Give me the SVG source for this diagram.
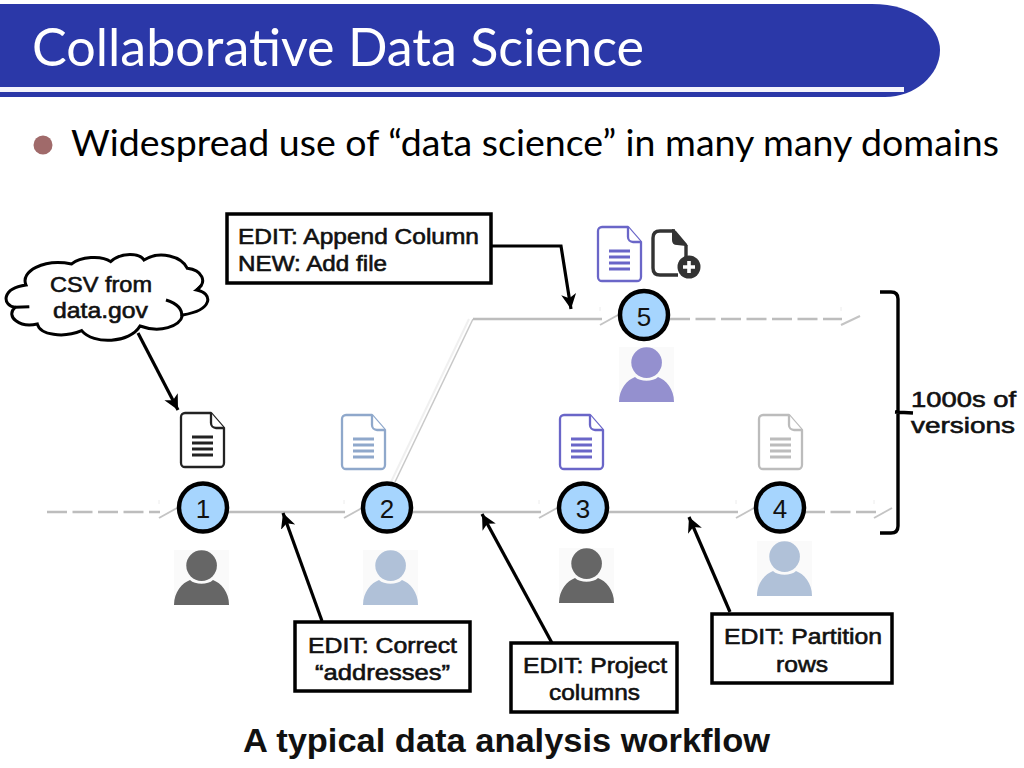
<svg xmlns="http://www.w3.org/2000/svg" width="1024" height="768" viewBox="0 0 1024 768">
<style>
text{font-family:"Liberation Sans",Arial,sans-serif;fill:#111}
.slide{font-family:Lato,"Open Sans",sans-serif}
.lbl{font-size:22px;stroke:#111;stroke-width:.6px}
.num{font-size:26px;text-anchor:middle}
.box{fill:#fff;stroke:#000;stroke-width:3.5}
.ver{fill:#a6d5fe;stroke:#000;stroke-width:4.5}
.doc{fill:#fff;stroke:currentColor;stroke-width:2.3}
.docl{stroke:currentColor;stroke-width:2.8;fill:none}
.flow{stroke:#bdbdbd;stroke-width:2.4;fill:none;filter:url(#soft)}
.dash{stroke-dasharray:20 5.5}
.hd{fill:#fff;stroke:none}
.hl{stroke:#c4c4c4;stroke-width:2;fill:none;filter:url(#soft)}
.ht{stroke:#ececec;stroke-width:1;fill:none}
.ptr{stroke:#000;stroke-width:3.2;fill:none;marker-end:url(#ah)}
</style>
<defs>
<filter id="soft" filterUnits="userSpaceOnUse" x="0" y="0" width="1024" height="768"><feGaussianBlur stdDeviation=".5"/></filter>
<marker id="ah" markerUnits="userSpaceOnUse" markerWidth="18" markerHeight="18" refX="15" refY="8" orient="auto">
<path d="M15,8 L0,0.5 L4,8 L0,15.5 Z" fill="#000"/>
</marker>
<g id="docIcon">
<path class="doc" stroke-linejoin="round" d="M4,0 H30 L43,15 V50 a4,4 0 0 1 -4,4 H4 a4,4 0 0 1 -4,-4 V4 a4,4 0 0 1 4,-4 Z"/>
<path class="doc" d="M30,0 V10 a5,5 0 0 0 5,5 H43"/>
<path class="docl" d="M11,24 H32 M11,30 H32 M11,36 H32 M11,42 H32"/>
</g>
<g id="person">
<rect width="55" height="55" fill="#fafafa"/>
<circle cx="27.6" cy="15.6" r="15.3" fill="currentColor"/>
<path fill="currentColor" d="M0,55 C0,42 8,33 16,30 C21,35 34,35 39,30 C47,33 55,42 55,55 Z"/>
</g>
</defs>
<g id="banner">
<path d="M0,4 H872 C915,4 940,28 940,50 C940,75 915,97 885,97 H0 Z" fill="#2b38a8"/>
<rect x="0" y="87" width="904" height="5" fill="#f4f4fb"/>
<text class="slide" x="32" y="66" font-size="52" style="fill:#fff" textLength="612" lengthAdjust="spacingAndGlyphs">Collaborative Data Science</text>
</g>
<g id="bullet">
<circle cx="43" cy="145" r="9.5" fill="#a06a6a"/>
<text class="slide" x="71" y="156" font-size="37.5" style="fill:#000" textLength="928" lengthAdjust="spacingAndGlyphs">Widespread use of “data science” in many many domains</text>
</g>
<g id="connectors">
<path d="M391,482 L469,319" stroke="#f0f0f0" stroke-width="2" fill="none"/>
<path d="M395,482 L473,319" stroke="#c8c8c8" stroke-width="1.5" fill="none"/>
<path class="flow" d="M473,319 H602"/>
<path class="flow dash" d="M47,512 H160"/>
<path class="flow" d="M228,512 H345"/>
<path class="flow" d="M413,512 H541"/>
<path class="flow" d="M609,512 H738"/>
<path class="flow dash" d="M805,512 H876"/>
<path class="flow dash" d="M670,319 H842"/>
<g>
<path class="hd" d="M159,500 L177,508 L159,518 L162,512 Z"/><path class="ht" d="M159,500 V504"/><path class="hl" d="M159,518 L177,508"/>
<path class="hd" d="M344,500 L362,508 L344,518 L347,512 Z"/><path class="ht" d="M344,500 V504"/><path class="hl" d="M344,518 L362,508"/>
<path class="hd" d="M539,500 L557,508 L539,518 L542,512 Z"/><path class="ht" d="M539,500 V504"/><path class="hl" d="M539,518 L557,508"/>
<path class="hd" d="M736,500 L754,508 L736,518 L739,512 Z"/><path class="ht" d="M736,500 V504"/><path class="hl" d="M736,518 L754,508"/>
<path class="hd" d="M874,500 L892,508 L874,518 L877,512 Z"/><path class="ht" d="M874,500 V504"/><path class="hl" d="M874,518 L892,508"/>
<path class="hd" d="M600,307 L618,315 L600,325 L603,319 Z"/><path class="ht" d="M600,307 V311"/><path class="hl" d="M600,325 L618,315"/>
<path class="hd" d="M841,307 L860,316 L841,325 L844,319 Z"/><path class="ht" d="M841,307 V311"/><path class="hl" d="M841,325 L860,316"/>
</g>
<path class="ptr" d="M138,333 L178,410"/>
<path class="ptr" d="M491,246 H561 L571,309"/>
<path class="ptr" d="M322,621 L283,513"/>
<path class="ptr" d="M552,643 L482,514"/>
<path class="ptr" d="M730,612 L689,517"/>
<path d="M880,292 H891 Q898,292 898,299 V526 Q898,533 891,533 H880 M895,412 L913,413" fill="none" stroke="#000" stroke-width="3.4"/>
</g>
<g id="cloud">
<g transform="translate(0,200) scale(.3333)" fill="none" stroke="#000" stroke-width="9">
<path fill="#fff" d="M78,255 C60,215 130,175 215,192 C240,170 305,165 332,185 C365,155 420,160 432,180 C480,150 545,170 562,205 C605,210 625,245 590,270 C640,280 640,330 548,345 C540,380 480,400 420,378 C390,430 280,435 245,392 C190,415 120,405 112,372 C60,385 15,350 45,322 C5,315 5,265 78,255 Z"/>
<path d="M498,300 C530,310 548,325 545,350 M45,322 L88,320 M590,270 L605,255"/>
</g>
<text class="lbl" x="50" y="292" textLength="102" lengthAdjust="spacingAndGlyphs">CSV from</text>
<text class="lbl" x="53" y="318" textLength="95" lengthAdjust="spacingAndGlyphs">data.gov</text>
</g>
<g id="edit-append">
<rect class="box" x="227" y="214" width="264" height="69"/>
<text class="lbl" x="238" y="244" textLength="241" lengthAdjust="spacingAndGlyphs">EDIT: Append Column</text>
<text class="lbl" x="238" y="271" textLength="149" lengthAdjust="spacingAndGlyphs">NEW: Add file</text>
</g>
<g id="edit-correct">
<rect class="box" x="295" y="622" width="175" height="69"/>
<text class="lbl" x="308" y="653" textLength="149" lengthAdjust="spacingAndGlyphs">EDIT: Correct</text>
<text class="lbl" x="315" y="680" textLength="135" lengthAdjust="spacingAndGlyphs">“addresses”</text>
</g>
<g id="edit-project">
<rect class="box" x="511" y="643" width="166" height="69"/>
<text class="lbl" x="523" y="673" textLength="144" lengthAdjust="spacingAndGlyphs">EDIT: Project</text>
<text class="lbl" x="549" y="700" textLength="91" lengthAdjust="spacingAndGlyphs">columns</text>
</g>
<g id="edit-partition">
<rect class="box" x="712" y="614" width="180" height="69"/>
<text class="lbl" x="724" y="644" textLength="158" lengthAdjust="spacingAndGlyphs">EDIT: Partition</text>
<text class="lbl" x="776" y="672" textLength="52" lengthAdjust="spacingAndGlyphs">rows</text>
</g>
<g id="version-1"><circle class="ver" cx="203" cy="507.5" r="24"/><text class="num" x="203" y="518">1</text></g>
<g id="version-2"><circle class="ver" cx="387" cy="507.5" r="24"/><text class="num" x="387" y="518">2</text></g>
<g id="version-3"><circle class="ver" cx="583" cy="507.5" r="24"/><text class="num" x="583" y="518">3</text></g>
<g id="version-4"><circle class="ver" cx="780" cy="507.5" r="24"/><text class="num" x="780" y="518">4</text></g>
<g id="version-5"><circle class="ver" cx="644" cy="315" r="24"/><text class="num" x="644" y="326">5</text></g>
<g id="doc-1" style="color:#222"><use href="#docIcon" x="181" y="413"/></g>
<g id="doc-2" style="color:#8fa8cb"><use href="#docIcon" x="342" y="415"/></g>
<g id="doc-3" style="color:#6a66c8"><use href="#docIcon" x="560" y="415"/></g>
<g id="doc-4" style="color:#bcbcbc"><use href="#docIcon" x="759" y="415"/></g>
<g id="doc-5" style="color:#6a66c8"><use href="#docIcon" x="598" y="227"/></g>
<g id="add-file">
<path d="M675,231 H660 Q653,231 653,238 V268 Q653,275 660,275 H678 M686,245 V257" fill="none" stroke="#333" stroke-width="3.4"/>
<path d="M672,229 Q674,229 676,231 L687,244 Q688,246 686,246 L677,245 Q672,245 672,240 Z" fill="#333"/>
<circle cx="689" cy="267" r="11.5" fill="#333"/>
<path d="M689,261 V273 M683,267 H695" stroke="#fff" stroke-width="3.6"/>
</g>
<g id="person-1" style="color:#666"><use href="#person" x="174" y="550"/></g>
<g id="person-2" style="color:#b0c1d8"><use href="#person" x="363" y="550"/></g>
<g id="person-3" style="color:#666"><use href="#person" x="559" y="548"/></g>
<g id="person-4" style="color:#b0c1d8"><use href="#person" x="757" y="541"/></g>
<g id="person-5" style="color:#9490cf"><use href="#person" x="619" y="347"/></g>
<g id="versions-label">
<text class="lbl" x="911" y="407" textLength="105" lengthAdjust="spacingAndGlyphs">1000s of</text>
<text class="lbl" x="911" y="433" textLength="104" lengthAdjust="spacingAndGlyphs">versions</text>
</g>
<text id="caption" x="243" y="752" font-size="33" font-weight="bold" textLength="527" lengthAdjust="spacingAndGlyphs">A typical data analysis workflow</text>
</svg>
